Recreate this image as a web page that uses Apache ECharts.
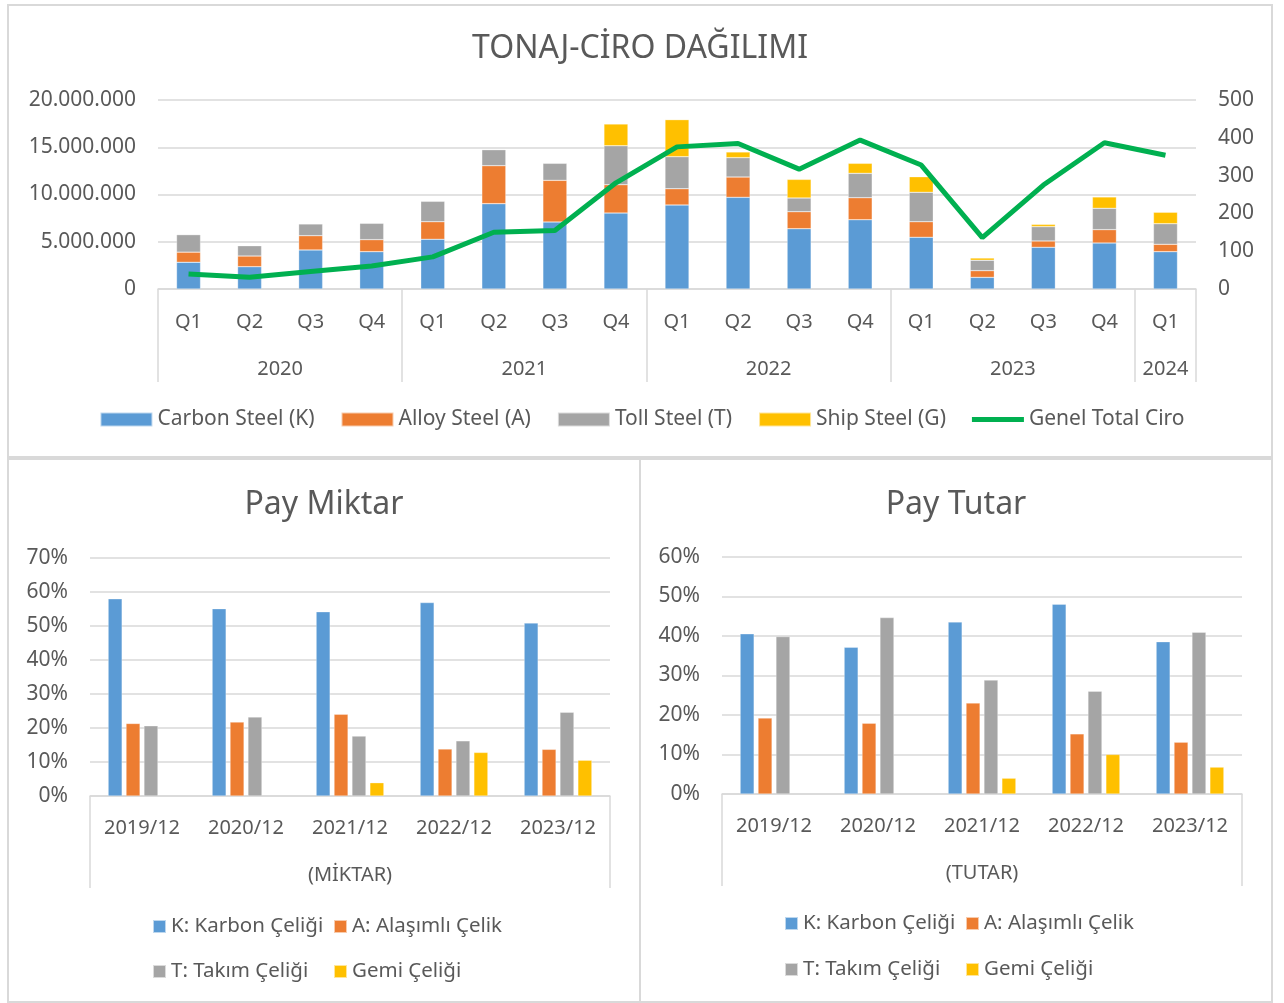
<!DOCTYPE html>
<html>
<head>
<meta charset="utf-8">
<script src="https://cdn.jsdelivr.net/npm/echarts@6/dist/echarts.min.js"></script>
<style>
html,body{margin:0;padding:0;background:#fff;}
#c{width:1284px;height:1003px;}
</style>
</head>
<body>
<div id="c"></div>
<script>
// ---- data ----
const quarters = ['Q1','Q2','Q3','Q4','Q1','Q2','Q3','Q4','Q1','Q2','Q3','Q4','Q1','Q2','Q3','Q4','Q1'];
const yearLabels = ['2020','2021','2022','2023','2024'];
const yearCenters = [2, 6, 10, 14, 16.5];
const yearBounds = [0, 4, 8, 12, 16, 17];
const carbon = [2830000, 2360000, 4130000, 3950000, 5260000, 9030000, 7090000, 8040000, 8890000, 9700000, 6380000, 7330000, 5470000, 1230000, 4410000, 4870000, 3950000];
const alloy  = [1070000, 1130000, 1510000, 1270000, 1860000, 4020000, 4410000, 3000000, 1720000, 2150000, 1800000, 2330000, 1650000, 710000, 670000, 1410000, 780000];
const toll   = [1850000, 1090000, 1240000, 1730000, 2160000, 1690000, 1800000, 4120000, 3390000, 2050000, 1450000, 2580000, 3110000, 1100000, 1520000, 2260000, 2180000];
const ship   = [null, null, null, null, null, null, null, 2300000, 3920000, 600000, 1970000, 1060000, 1650000, 240000, 240000, 1200000, 1210000];
const ciro   = [40, 31, 46, 61, 85, 150, 155, 281, 376, 385, 317, 394, 328, 136, 275, 387, 354];

const periods = ['2019/12','2020/12','2021/12','2022/12','2023/12'];
const miktarK = [0.579, 0.550, 0.541, 0.568, 0.508];
const miktarA = [0.213, 0.217, 0.240, 0.138, 0.137];
const miktarT = [0.206, 0.232, 0.176, 0.162, 0.246];
const miktarG = [null, null, 0.039, 0.128, 0.105];
const tutarK = [0.405, 0.371, 0.435, 0.480, 0.385];
const tutarA = [0.192, 0.179, 0.230, 0.152, 0.131];
const tutarT = [0.398, 0.446, 0.288, 0.260, 0.409];
const tutarG = [null, null, 0.040, 0.100, 0.068];

const topNames = ['Carbon Steel (K)','Alloy Steel (A)','Toll Steel (T)','Ship Steel (G)','Genel Total Ciro'];
const payNames = ['K: Karbon Çeliği','A: Alaşımlı Çelik','T: Takım Çeliği','Gemi Çeliği'];

// ---- style ----
const C = {blue:'#5B9BD5', orange:'#ED7D31', gray:'#A5A5A5', yellow:'#FFC000', green:'#00B050'};
const TXT = '#595959';
const LINE = '#d9d9d9';
const FONT = 'Noto Sans';

function dots(v){ return String(v).replace(/\B(?=(\d{3})+(?!\d))/g, '.'); }
function pct(v){ return Math.round(v*100) + '%'; }

const chart = echarts.init(document.getElementById('c'), null, {renderer:'canvas'});

function catAxis(grid, data, margin){
  return {type:'category', gridIndex:grid, data:data, boundaryGap:true,
    axisLine:{show:true, lineStyle:{color:LINE, width:1.5}},
    axisTick:{show:false},
    axisLabel:{color:TXT, fontFamily:FONT, fontSize:20, margin:margin, interval:0}};
}
function groupAxis(grid, max, bounds, centers, labels, tickLen, margin){
  return {type:'value', gridIndex:grid, min:0, max:max, position:'bottom',
    axisLine:{show:false}, splitLine:{show:false},
    axisTick:{show:true, customValues:bounds, length:tickLen, lineStyle:{color:LINE, width:1.5}},
    axisLabel:{show:true, customValues:centers, color:TXT, fontFamily:FONT, fontSize:20, margin:margin,
      formatter:function(v){ const i = centers.indexOf(v); return i>=0 ? labels[i] : ''; }}};
}
function valAxis(grid, max, interval, fmt, pos, showSplit){
  return {type:'value', gridIndex:grid, min:0, max:max, interval:interval, position:pos||'left',
    axisLine:{show:false}, axisTick:{show:false},
    splitLine:{show:showSplit!==false, lineStyle:{color:LINE, width:1.5}},
    axisLabel:{color:TXT, fontFamily:FONT, fontSize:21, margin:22, padding:[3,0,0,0], formatter:fmt}};
}
function payBars(xi, yi, arrs){
  const cols = [C.blue, C.orange, C.gray, C.yellow];
  return arrs.map((a,i)=>({type:'bar', name:payNames[i], xAxisIndex:xi, yAxisIndex:yi, data:a,
    barWidth:14, barGap:'28%', itemStyle:{color:cols[i], borderColor:'rgba(255,255,255,0.6)', borderWidth:0.5}}));
}
function smallLegend(name, left, top, color){
  return {show:true, data:[{name:name, itemStyle:{color:color}}], left:left, top:top, orient:'horizontal',
    icon:'rect', itemWidth:13, itemHeight:13, itemGap:5, padding:0, selectedMode:false,
    textStyle:{color:TXT, fontFamily:FONT, fontSize:20.5}};
}

const option = {
  animation:false,
  backgroundColor:'#fff',
  textStyle:{fontFamily:FONT},
  title:[
    {text:'TONAJ-CİRO DAĞILIMI', left:635, top:28, textAlign:'center', textStyle:{color:TXT, fontFamily:FONT, fontSize:32, fontWeight:'normal'}},
    {text:'Pay Miktar', left:319, top:484, textAlign:'center', textStyle:{color:TXT, fontFamily:FONT, fontSize:32, fontWeight:'normal'}},
    {text:'Pay Tutar', left:951, top:484, textAlign:'center', textStyle:{color:TXT, fontFamily:FONT, fontSize:32, fontWeight:'normal'}}
  ],
  grid:[
    {left:158, width:1038, top:100, height:189, containLabel:false},
    {left:90, width:520, top:557.6, height:238.4, containLabel:false},
    {left:722, width:520, top:556.7, height:237.3, containLabel:false}
  ],
  xAxis:[
    catAxis(0, quarters, 23),
    groupAxis(0, 17, yearBounds, yearCenters, yearLabels, 93, 70),
    catAxis(1, periods, 22),
    groupAxis(1, 5, [0,5], [2.5], ['(MİKTAR)'], 92, 69),
    catAxis(2, periods, 22),
    groupAxis(2, 5, [0,5], [2.5], ['(TUTAR)'], 92, 69)
  ],
  yAxis:[
    valAxis(0, 20000000, 5000000, dots, 'left'),
    valAxis(0, 500, 100, null, 'right', false),
    valAxis(1, 0.7, 0.1, pct, 'left'),
    valAxis(2, 0.6, 0.1, pct, 'left')
  ],
  legend:[
    {show:true, data:topNames.map((n,i)=> i<4 ? {name:n, icon:'rect'} : {name:n, icon:'path://M0,0 H52 V5 H0 Z'}),
      left:'center', top:409, itemWidth:52, itemHeight:14, itemGap:26, padding:0, selectedMode:false,
      textStyle:{color:TXT, fontFamily:FONT, fontSize:21}},
    smallLegend(payNames[0], 152, 916, C.blue),
    smallLegend(payNames[1], 333, 916, C.orange),
    smallLegend(payNames[2], 152, 961, C.gray),
    smallLegend(payNames[3], 333, 961, C.yellow),
    smallLegend(payNames[0], 784, 913, C.blue),
    smallLegend(payNames[1], 965, 913, C.orange),
    smallLegend(payNames[2], 784, 959, C.gray),
    smallLegend(payNames[3], 965, 959, C.yellow)
  ],
  series:[
    {type:'bar', name:topNames[0], stack:'t', xAxisIndex:0, yAxisIndex:0, data:carbon, barWidth:24, itemStyle:{color:C.blue, borderColor:'rgba(255,255,255,0.6)', borderWidth:0.5}},
    {type:'bar', name:topNames[1], stack:'t', xAxisIndex:0, yAxisIndex:0, data:alloy, barWidth:24, itemStyle:{color:C.orange, borderColor:'rgba(255,255,255,0.6)', borderWidth:0.5}},
    {type:'bar', name:topNames[2], stack:'t', xAxisIndex:0, yAxisIndex:0, data:toll, barWidth:24, itemStyle:{color:C.gray, borderColor:'rgba(255,255,255,0.6)', borderWidth:0.5}},
    {type:'bar', name:topNames[3], stack:'t', xAxisIndex:0, yAxisIndex:0, data:ship, barWidth:24, itemStyle:{color:C.yellow, borderColor:'rgba(255,255,255,0.6)', borderWidth:0.5}},
    {type:'line', name:topNames[4], xAxisIndex:0, yAxisIndex:1, data:ciro, showSymbol:false, symbol:'none',
      lineStyle:{color:C.green, width:5}, itemStyle:{color:C.green}, z:5},
    ...payBars(2, 2, [miktarK, miktarA, miktarT, miktarG]),
    ...payBars(4, 3, [tutarK, tutarA, tutarT, tutarG])
  ],
  graphic:[
    {type:'rect', shape:{x:8, y:5, width:1264, height:452}, style:{fill:null, stroke:LINE, lineWidth:2}, silent:true},
    {type:'rect', shape:{x:8, y:459, width:632, height:543}, style:{fill:null, stroke:LINE, lineWidth:2}, silent:true},
    {type:'rect', shape:{x:640, y:459, width:632, height:543}, style:{fill:null, stroke:LINE, lineWidth:2}, silent:true}
  ]
};
chart.setOption(option);
</script>
</body>
</html>
